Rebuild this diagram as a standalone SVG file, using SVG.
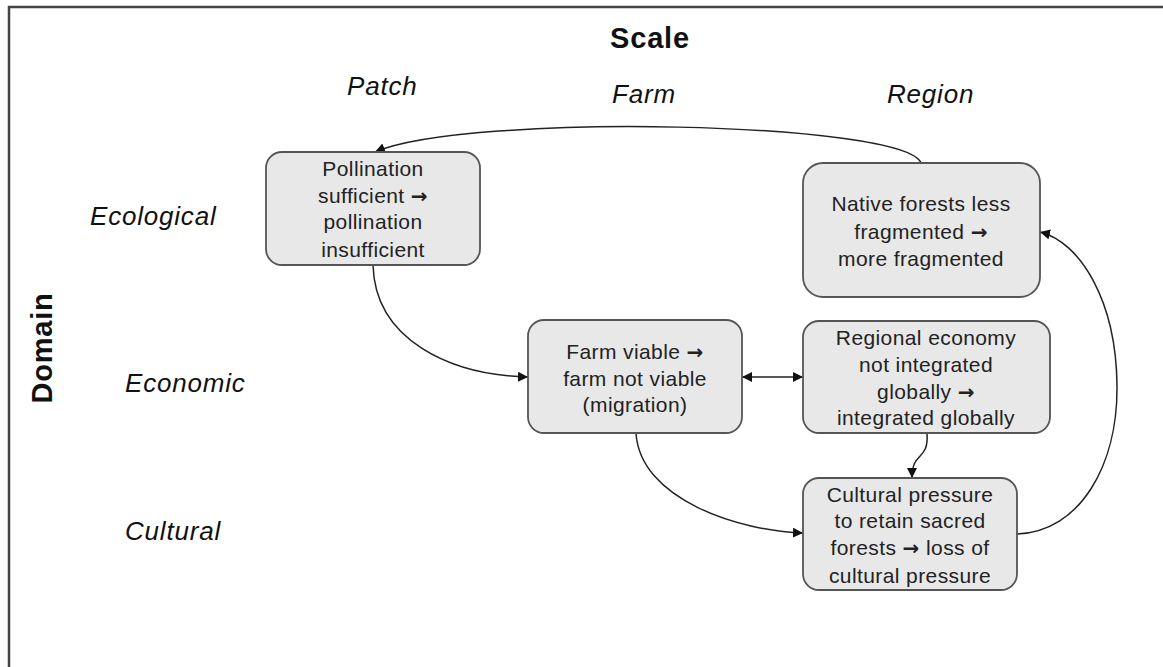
<svg xmlns="http://www.w3.org/2000/svg" width="1163" height="667" viewBox="0 0 1163 667">
<style>
.box{fill:#e8e8e8;stroke:#555;stroke-width:1.8}
.bt{font-family:"Liberation Sans",Arial,sans-serif;font-size:21px;fill:#222;text-anchor:middle;letter-spacing:0.4px}
.ar{font-family:"DejaVu Sans",sans-serif;font-weight:bold;font-size:20px}
.lab{font-family:"Liberation Sans",Arial,sans-serif;font-size:26px;font-style:italic;fill:#111;letter-spacing:0.8px}
.head{font-family:"Liberation Sans",Arial,sans-serif;font-size:29px;font-weight:bold;fill:#111;letter-spacing:0.8px}
.con{fill:none;stroke:#222;stroke-width:1.5}
</style>
<defs>
<marker id="ah" viewBox="0 0 10 10" refX="10" refY="5" markerWidth="10" markerHeight="10" markerUnits="userSpaceOnUse" orient="auto-start-reverse">
<path d="M0,0 L10,5 L0,10 z" fill="#111"/>
</marker>
</defs>
<rect x="9" y="7" width="1200" height="700" fill="#fff" stroke="#444" stroke-width="2.5"/>
<g id="headings">
<text class="head" x="650" y="48" text-anchor="middle">Scale</text>
<text class="lab" x="347" y="95">Patch</text>
<text class="lab" x="612" y="103">Farm</text>
<text class="lab" x="887" y="103">Region</text>
<text class="lab" x="90" y="225">Ecological</text>
<text class="lab" x="125" y="392">Economic</text>
<text class="lab" x="125" y="540">Cultural</text>
<text class="head" transform="translate(52,348) rotate(-90)" text-anchor="middle">Domain</text>
</g>
<g id="connectors">
<path class="con" d="M921,163 C905,122 470,112 375,152" marker-end="url(#ah)"/>
<path class="con" d="M373,265 C375,340 450,375 528,377" marker-end="url(#ah)"/>
<path class="con" d="M742,377 L803,377" marker-start="url(#ah)" marker-end="url(#ah)"/>
<path class="con" d="M636,433 C640,500 740,531 803,533" marker-end="url(#ah)"/>
<path class="con" d="M927,433 C929,462 912,450 912,478" marker-end="url(#ah)"/>
<path class="con" d="M1017,534 C1080,532 1118,465 1117,385 C1116,300 1080,242 1040,232" marker-end="url(#ah)"/>
</g>
<g id="n-pollination">
<rect class="box" x="266" y="152" width="214" height="113" rx="16"/>
<text class="bt" x="373" y="176">Pollination</text>
<text class="bt" x="373" y="203">sufficient <tspan class="ar">→</tspan></text>
<text class="bt" x="373" y="229">pollination</text>
<text class="bt" x="373" y="257">insufficient</text>
</g>
<g id="n-forests">
<rect class="box" x="803" y="163" width="237" height="134" rx="20"/>
<text class="bt" x="921" y="211">Native forests less</text>
<text class="bt" x="921" y="239">fragmented <tspan class="ar">→</tspan></text>
<text class="bt" x="921" y="266">more fragmented</text>
</g>
<g id="n-farm">
<rect class="box" x="528" y="320" width="214" height="113" rx="16"/>
<text class="bt" x="635" y="359">Farm viable <tspan class="ar">→</tspan></text>
<text class="bt" x="635" y="386">farm not viable</text>
<text class="bt" x="635" y="412">(migration)</text>
</g>
<g id="n-regional">
<rect class="box" x="803" y="321" width="247" height="112" rx="16"/>
<text class="bt" x="926" y="345">Regional economy</text>
<text class="bt" x="926" y="372">not integrated</text>
<text class="bt" x="926" y="399">globally <tspan class="ar">→</tspan></text>
<text class="bt" x="926" y="425">integrated globally</text>
</g>
<g id="n-cultural">
<rect class="box" x="803" y="478" width="214" height="112" rx="16"/>
<text class="bt" x="910" y="502">Cultural pressure</text>
<text class="bt" x="910" y="528">to retain sacred</text>
<text class="bt" x="910" y="555">forests <tspan class="ar">→</tspan> loss of</text>
<text class="bt" x="910" y="583">cultural pressure</text>
</g>
</svg>
